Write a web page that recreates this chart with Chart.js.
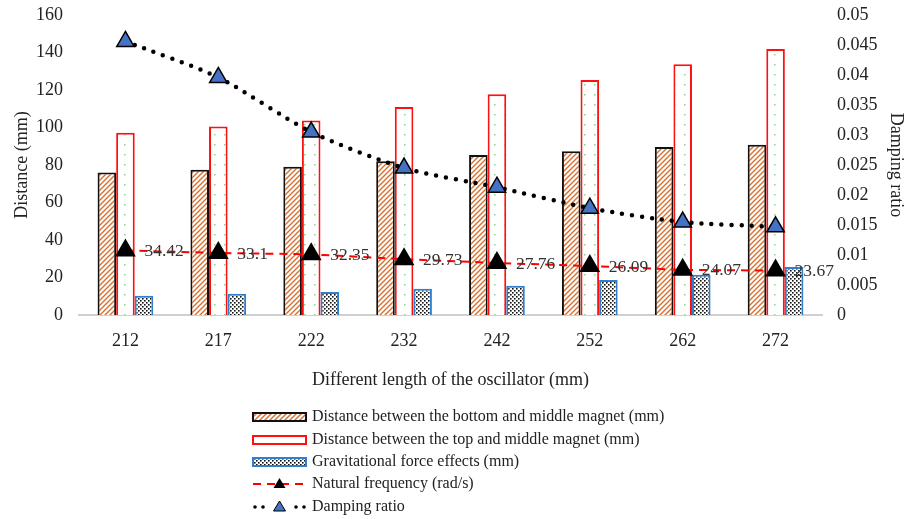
<!DOCTYPE html>
<html>
<head>
<meta charset="utf-8">
<script src="https://cdn.jsdelivr.net/npm/chart.js@4"></script>
<style>
  body { margin: 0; background: #fff; }
  #wrap { width: 917px; height: 519px; }
</style>
</head>
<body>
<div id="wrap"><canvas id="chart" width="917" height="519"></canvas></div>
<script>
// data
const lengths = ["212", "217", "222", "232", "242", "252", "262", "272"];
const bottomMiddle = [76, 77.5, 79.1, 82, 85.3, 87.3, 89.6, 90.8];
const topMiddle = [97.2, 100.6, 103.8, 110.9, 117.7, 125.3, 133.7, 141.9];
const gravity = [10.3, 11.4, 12.3, 14, 15.6, 18.7, 21.5, 25.6];
const naturalFreq = [34.42, 33.1, 32.35, 29.73, 27.76, 26.09, 24.07, 23.67];
const damping = [0.0456, 0.0396, 0.0305, 0.0245, 0.0213, 0.0178, 0.0155, 0.0147];

const serif = "'Liberation Serif', 'Times New Roman', serif";

// fill patterns
function makePattern(size, draw) {
    let c = document.createElement("canvas");
    c.width = size; c.height = size;
    let g = c.getContext("2d");
    g.fillStyle = "#fff";
    g.fillRect(0, 0, size, size);
    draw(g);
    return document.getElementById("chart").getContext("2d").createPattern(c, "repeat");
}
const hatch = makePattern(5, function (g) {
    g.strokeStyle = "#d86f2e";
    g.lineWidth = 1.4;
    g.beginPath();
    g.moveTo(0, 5); g.lineTo(5, 0);
    g.moveTo(-3, 3); g.lineTo(3, -3);
    g.moveTo(2, 8); g.lineTo(8, 2);
    g.stroke();
});
const greenDots = makePattern(10, function (g) {
    g.fillStyle = "#8fd18f";
    g.fillRect(4, 4, 1.5, 1.5);
});
const blackDots = makePattern(4, function (g) {
    g.fillStyle = "#111";
    g.fillRect(0, 0, 1.6, 1.6);
    g.fillRect(2, 2, 1.6, 1.6);
});

// value labels for the natural frequency line
const freqLabels = {
    id: "freqLabels",
    afterDatasetsDraw(chart) {
        let meta = chart.getDatasetMeta(3);
        let ctx = chart.ctx;
        ctx.save();
        ctx.font = "17.5px " + serif;
        ctx.fillStyle = "#333";
        ctx.textAlign = "left";
        ctx.textBaseline = "middle";
        meta.data.forEach(function (pt, i) {
            ctx.fillText(naturalFreq[i], pt.x + 19, pt.y + 1);
        });
        ctx.restore();
    }
};

// legend drawn one item per row
const stackedLegend = {
    id: "stackedLegend",
    afterDraw(chart) {
        let ctx = chart.ctx;
        let x0 = 253, w = 53, textX = 312;
        let rows = [417, 440, 462, 484, 507];
        let names = chart.data.datasets.map(d => d.label);
        ctx.save();
        ctx.font = "16px " + serif;
        ctx.fillStyle = "#222";
        ctx.textBaseline = "middle";
        names.forEach(function (name, i) {
            let y = rows[i];
            if (i < 3) {
                let ds = chart.data.datasets[i];
                ctx.fillStyle = ds.backgroundColor;
                ctx.fillRect(x0, y - 4, w, 8);
                ctx.strokeStyle = ds.borderColor;
                ctx.lineWidth = 2;
                ctx.strokeRect(x0, y - 4, w, 8);
            } else if (i === 3) {
                ctx.strokeStyle = "#ff0000";
                ctx.lineWidth = 2;
                ctx.setLineDash([8, 6]);
                ctx.beginPath();
                ctx.moveTo(x0, y); ctx.lineTo(x0 + w, y);
                ctx.stroke();
                ctx.setLineDash([]);
                ctx.fillStyle = "#000";
                ctx.beginPath();
                ctx.moveTo(x0 + w / 2, y - 6); ctx.lineTo(x0 + w / 2 + 6, y + 4); ctx.lineTo(x0 + w / 2 - 6, y + 4);
                ctx.closePath(); ctx.fill();
            } else {
                ctx.fillStyle = "#000";
                [x0 + 2, x0 + 10, x0 + 43, x0 + 51].forEach(function (dx) {
                    ctx.beginPath(); ctx.arc(dx, y, 1.8, 0, Math.PI * 2); ctx.fill();
                });
                ctx.fillStyle = "#4472c4";
                ctx.strokeStyle = "#000";
                ctx.lineWidth = 1;
                ctx.beginPath();
                ctx.moveTo(x0 + w / 2, y - 6); ctx.lineTo(x0 + w / 2 + 6, y + 4); ctx.lineTo(x0 + w / 2 - 6, y + 4);
                ctx.closePath(); ctx.fill(); ctx.stroke();
            }
            ctx.fillStyle = "#222";
            ctx.fillText(name, textX, y);
        });
        ctx.restore();
    }
};

new Chart(document.getElementById("chart").getContext("2d"), {
    type: "bar",
    data: {
        labels: lengths,
        datasets: [
            { label: "Distance between the bottom and middle magnet (mm)", data: bottomMiddle,
              backgroundColor: hatch, borderColor: "#111", borderWidth: 2, yAxisID: "y", order: 3 },
            { label: "Distance between the top and middle magnet (mm)", data: topMiddle,
              backgroundColor: greenDots, borderColor: "#ff1010", borderWidth: 2, yAxisID: "y", order: 3 },
            { label: "Gravitational force effects (mm)", data: gravity,
              backgroundColor: blackDots, borderColor: "#2e7fd0", borderWidth: 2, yAxisID: "y", order: 3 },
            { type: "line", label: "Natural frequency (rad/s)", data: naturalFreq, yAxisID: "y",
              borderColor: "#ff0000", borderWidth: 2, borderDash: [8, 6], pointStyle: "triangle",
              pointRadius: 10, pointBackgroundColor: "#000", pointBorderColor: "#000", order: 1 },
            { type: "line", label: "Damping ratio", data: damping, yAxisID: "y1",
              borderColor: "#000", borderWidth: 4.5, borderDash: [0, 10], borderCapStyle: "round",
              tension: 0.25, pointStyle: "triangle", pointRadius: 10,
              pointBackgroundColor: "#4472c4", pointBorderColor: "#000", pointBorderWidth: 1.5, order: 0 }
        ]
    },
    options: {
        responsive: false,
        animation: false,
        layout: { padding: { top: 15, bottom: 124, left: 0, right: 0 } },
        datasets: { bar: { categoryPercentage: 0.6, barPercentage: 1 } },
        plugins: { legend: { display: false }, tooltip: { enabled: false } },
        scales: {
            x: {
                grid: { display: false, drawTicks: false },
                border: { color: "#d0d0d0", width: 2 },
                ticks: { color: "#222", font: { family: serif, size: 18 }, padding: 15 },
                title: { display: true, text: "Different length of the oscillator (mm)", color: "#222",
                         font: { family: serif, size: 18 }, padding: { top: 19 } },
                afterFit(s) { s.height = 80; }
            },
            y: {
                position: "left", min: 0, max: 160,
                grid: { display: false, drawTicks: false },
                border: { display: false },
                ticks: { stepSize: 20, color: "#222", font: { family: serif, size: 18 }, padding: 16 },
                title: { display: true, text: "Distance (mm)", color: "#222", font: { family: serif, size: 18 },
                         padding: { top: 11, bottom: 0 } },
                afterFit(s) { s.width = 79; s.paddingTop = 0; s.paddingBottom = 0; }
            },
            y1: {
                position: "right", min: 0, max: 0.05,
                grid: { display: false, drawTicks: false },
                border: { display: false },
                ticks: { stepSize: 0.005, color: "#222", font: { family: serif, size: 18 }, padding: 15,
                         callback: v => String(parseFloat(v.toFixed(3))) },
                title: { display: true, text: "Damping ratio", color: "#222", font: { family: serif, size: 18 },
                         padding: { top: 10, bottom: 0 } },
                afterFit(s) { s.width = 95; s.paddingTop = 0; s.paddingBottom = 0; }
            }
        }
    },
    plugins: [freqLabels, stackedLegend]
});
</script>
</body>
</html>
